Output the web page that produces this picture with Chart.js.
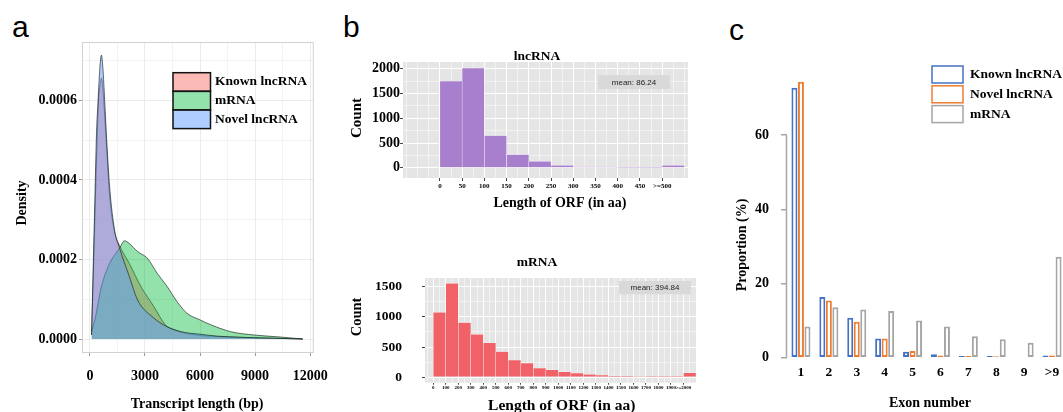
<!DOCTYPE html>
<html>
<head>
<meta charset="utf-8">
<script src="https://cdn.jsdelivr.net/npm/chart.js@4.4.0/dist/chart.umd.min.js"></script>
<style>
  html, body { margin: 0; padding: 0; background: #fff; width: 1063px; height: 412px; overflow: hidden; position: relative; }
  canvas { position: absolute; }
  .tag { position: absolute; font-family: "Liberation Sans", Arial, sans-serif; font-size: 30px; line-height: 30px; color: #000; }
</style>
</head>
<body>
<div class="tag" style="left:12px;top:12px">a</div>
<div class="tag" style="left:343px;top:12px">b</div>
<div class="tag" style="left:729px;top:15px">c</div>
<canvas id="chartA" width="340" height="412" style="left:0;top:0"></canvas>
<canvas id="chartB1" width="360" height="170" style="left:340px;top:45px"></canvas>
<canvas id="chartB2" width="360" height="170" style="left:340px;top:250px"></canvas>
<canvas id="chartC" width="370" height="372" style="left:700px;top:40px"></canvas>
<script>
(() => {
	"use strict";

	const SERIF = '"Liberation Serif", "Times New Roman", serif';
	const SANS = '"Liberation Sans", Arial, sans-serif';

	// a: transcript length density
	const knownLen = [90, 180, 270, 360, 473, 560, 629, 690, 753, 900, 1075, 1340, 1613, 2150, 2778, 3495, 4122, 4500, 5500, 7000, 9000, 11600];
	const knownDensity = [0.00001, 0.00015, 0.0003, 0.00045, 0.0006, 0.00064, 0.000656, 0.00064, 0.0006, 0.00049, 0.00036, 0.00027, 0.000235, 0.00019, 0.000132, 0.000081, 0.000035, 0.000025, 0.000012, 0.000006, 0.000003, 0];
	const mrnaLen = [90, 269, 629, 1075, 1613, 1882, 2150, 2597, 3134, 3670, 4211, 4749, 5285, 6003, 6630, 7706, 8961, 10380, 11600];
	const mrnaDensity = [0.00002, 0.000048, 0.000132, 0.00019, 0.000228, 0.000247, 0.00024, 0.00022, 0.000203, 0.000165, 0.000132, 0.000094, 0.000065, 0.000048, 0.000035, 0.000018, 0.00001, 0.000005, 0];
	const novelLen = [90, 180, 270, 360, 446, 540, 629, 710, 806, 896, 1075, 1340, 1613, 2150, 2600, 3400, 4200, 5000, 6000, 7000, 8000, 9000, 10000, 11600];
	const novelDensity = [0.00001, 0.00018, 0.00035, 0.000517, 0.0006, 0.00068, 0.000714, 0.00068, 0.0006, 0.000517, 0.000383, 0.000275, 0.000229, 0.000157, 0.000098, 0.000056, 0.000031, 0.000018, 0.000012, 0.000007, 0.000005, 0.000003, 0.000002, 0];
	const lengthTicks = [0, 3000, 6000, 9000, 12000];
	const densityTicks = [0, 0.0002, 0.0004, 0.0006];

	// b: ORF length histograms
	const lncBinMid = [25, 75, 125, 175, 225, 275, 325, 375, 425, 475, 525];
	const lncCount = [1750, 2015, 650, 265, 130, 52, 22, 15, 10, 6, 50];
	const lncTickVals = [0, 50, 100, 150, 200, 250, 300, 350, 400, 450, 500];
	const lncTickLabels = ["0", "50", "100", "150", "200", "250", "300", "350", "400", "450", ">=500"];
	const lncMean = 86.24;
	const mrnaBinMid = [50, 150, 250, 350, 450, 550, 650, 750, 850, 950, 1050, 1150, 1250, 1350, 1450, 1550, 1650, 1750, 1850, 1950, 2050];
	const mrnaCount = [1075, 1560, 905, 710, 570, 425, 285, 233, 148, 120, 88, 68, 47, 32, 20, 15, 10, 6, 4, 3, 70];
	const mrnaTickVals = [0, 100, 200, 300, 400, 500, 600, 700, 800, 900, 1000, 1100, 1200, 1300, 1400, 1500, 1600, 1700, 1800, 1900, 2000];
	const mrnaTickLabels = ["0", "100", "200", "300", "400", "500", "600", "700", "800", "900", "1000", "1100", "1200", "1300", "1400", "1500", "1600", "1700", "1800", "1900", ">=2000"];
	const mrnaMean = 394.84;
	const countTicksLnc = [0, 500, 1000, 1500, 2000];
	const countTicksMrna = [0, 500, 1000, 1500];

	// c: exon number
	const exonCats = ["1", "2", "3", "4", "5", "6", "7", "8", "9", ">9"];
	const knownProp = [72.8, 16.4, 10.8, 5.2, 1.6, 0.9, 0.45, 0.45, 0.2, 0.6];
	const novelProp = [74.4, 15.4, 9.7, 5.2, 1.8, 0.6, 0.45, 0.4, 0.2, 0.6];
	const mrnaProp = [8.4, 13.6, 13.0, 12.6, 10.0, 8.4, 5.8, 5.0, 4.0, 27.2];
	const propTicks = [0, 20, 40, 60];

	const range = (a, b, step) => Array.from({ length: Math.round((b - a) / step) + 1 }, (_, i) => a + i * step);
	const has = (list, v) => list.some((t) => Math.abs(t - v) < 1e-9);
	const pts = (xs, ys) => xs.map((x, i) => ({ x: x, y: ys[i] }));
	const fixTicks = (vals) => (s) => { s.ticks = vals.map((v) => ({ value: v })); };
	const bold = (size) => ({ family: SERIF, size: size, weight: "bold" });
	const pick = (vals, labels) => (v) => { const i = vals.indexOf(v); return i < 0 ? "" : labels[i]; };

	// background, frame, legend boxes, mean boxes and free texts
	function makeDeco(cfg) {
		return {
			id: "deco",
			beforeDraw(chart) {
				const a = chart.chartArea, ctx = chart.ctx;
				if (cfg.panel) {
					ctx.save();
					ctx.fillStyle = cfg.panel;
					ctx.fillRect(a.left, a.top, a.right - a.left, a.bottom - a.top);
					ctx.restore();
				}
			},
			afterDraw(chart) {
				const a = chart.chartArea, ctx = chart.ctx;
				ctx.save();
				if (cfg.frame) {
					ctx.strokeStyle = cfg.frame;
					ctx.lineWidth = 1;
					ctx.strokeRect(a.left + 0.5, a.top + 0.5, a.right - a.left - 1, a.bottom - a.top - 1);
				}
				if (cfg.yLine) {
					const y = chart.scales.y;
					ctx.strokeStyle = cfg.yLine.color;
					ctx.lineWidth = 1.5;
					ctx.beginPath();
					ctx.moveTo(a.left - 0.5, y.getPixelForValue(cfg.yLine.from));
					ctx.lineTo(a.left - 0.5, y.getPixelForValue(cfg.yLine.to));
					ctx.stroke();
				}
				(cfg.boxes || []).forEach((b) => {
					ctx.fillStyle = "#d9d9d9";
					ctx.fillRect(b.x, b.y, b.w, b.h);
					ctx.fillStyle = "#222";
					ctx.font = "8px " + SANS;
					ctx.textAlign = "center";
					ctx.textBaseline = "middle";
					ctx.fillText(b.text, b.x + b.w / 2, b.y + b.h / 2 + 0.5);
				});
				if (cfg.key) {
					const k = cfg.key;
					chart.data.datasets.forEach((ds, i) => {
						const y = k.y + i * k.step;
						ctx.fillStyle = "#fff";
						ctx.fillRect(k.x, y, k.w, k.h);
						if (k.fill) {
							ctx.fillStyle = ds.backgroundColor;
							ctx.fillRect(k.x, y, k.w, k.h);
						}
						ctx.strokeStyle = k.stroke || ds.borderColor;
						ctx.lineWidth = 1.5;
						ctx.strokeRect(k.x, y, k.w, k.h);
						ctx.fillStyle = "#000";
						ctx.font = "bold " + k.size + "px " + SERIF;
						ctx.textAlign = "left";
						ctx.textBaseline = "middle";
						ctx.fillText(ds.label, k.tx, y + k.h / 2);
					});
				}
				(cfg.texts || []).forEach((t) => {
					ctx.save();
					ctx.translate(t.x, t.y);
					if (t.rot) ctx.rotate(t.rot);
					ctx.fillStyle = "#000";
					ctx.font = "bold " + t.size + "px " + SERIF;
					ctx.textAlign = "center";
					ctx.textBaseline = "middle";
					ctx.fillText(t.text, 0, 0);
					ctx.restore();
				});
				ctx.restore();
			},
		};
	}

	const base = {
		responsive: false,
		animation: false,
		plugins: { legend: { display: false }, tooltip: { enabled: false } },
	};

	// ---------- a ----------
	const lengthGrid = range(0, 12000, 1500);
	const densityGrid = range(0, 0.0007, 0.0001);
	new Chart(document.getElementById("chartA"), {
		type: "line",
		data: {
			datasets: [
				{ label: "Known lncRNA", data: pts(knownLen, knownDensity), backgroundColor: "rgba(248,118,109,0.5)", order: 3 },
				{ label: "mRNA", data: pts(mrnaLen, mrnaDensity), backgroundColor: "rgba(0,186,56,0.42)", order: 2 },
				{ label: "Novel lncRNA", data: pts(novelLen, novelDensity), backgroundColor: "rgba(97,156,255,0.5)", order: 1 },
			].map((d) => Object.assign(d, {
				fill: "origin",
				borderColor: "rgba(20,30,20,0.8)",
				borderWidth: 0.8,
				pointRadius: 0,
				cubicInterpolationMode: "monotone",
			})),
		},
		options: Object.assign({}, base, {
			layout: { padding: { left: 0, top: 42, right: 23, bottom: 0 } },
			scales: {
				x: {
					type: "linear",
					min: -430,
					max: 12200,
					afterBuildTicks: fixTicks(lengthGrid),
					afterFit: (s) => { s.height = 59; },
					border: { display: false },
					grid: {
						color: "#ebebeb",
						lineWidth: (c) => (has(lengthTicks, c.tick.value) ? 1 : 0.6),
						tickLength: 3,
						tickColor: (c) => (has(lengthTicks, c.tick.value) ? "#9a9a9a" : "rgba(0,0,0,0)"),
					},
					ticks: { autoSkip: false, maxRotation: 0, padding: 12, color: "#000", font: bold(14), callback: (v) => (has(lengthTicks, v) ? String(v) : "") },
				},
				y: {
					min: -0.0000352,
					max: 0.000747,
					afterBuildTicks: fixTicks(densityGrid),
					afterFit: (s) => { s.width = 82; },
					border: { display: false },
					grid: {
						color: "#ebebeb",
						lineWidth: (c) => (has(densityTicks, c.tick.value) ? 1 : 0.6),
						tickLength: 3,
						tickColor: (c) => (has(densityTicks, c.tick.value) ? "#9a9a9a" : "rgba(0,0,0,0)"),
					},
					ticks: { autoSkip: false, padding: 2, color: "#000", font: bold(14), callback: (v) => (has(densityTicks, v) ? v.toFixed(4) : "") },
				},
			},
		}),
		plugins: [makeDeco({
			frame: "#d2d2d2",
			key: { x: 173, y: 72.7, w: 37.5, h: 18.5, step: 18.7, tx: 215, size: 13.5, fill: true, stroke: "#111" },
			texts: [
				{ text: "Density", x: 22, y: 203, rot: -Math.PI / 2, size: 14 },
				{ text: "Transcript length (bp)", x: 197, y: 404, size: 14 },
			],
		})],
	});

	// ---------- b ----------
	function histogram(id, mids, counts, color, xr, yr, xGridStep, tickVals, tickLabels, countTicks, sizes, deco) {
		return new Chart(document.getElementById(id), {
			type: "bar",
			data: {
				datasets: [{
					data: pts(mids, counts),
					backgroundColor: color,
					borderColor: "rgba(255,255,255,0.85)",
					borderWidth: 0.5,
					barThickness: "flex",
					barPercentage: 1,
					categoryPercentage: 1,
				}],
			},
			options: Object.assign({}, base, {
				layout: { padding: sizes.pad },
				scales: {
					x: {
						type: "linear",
						offset: false,
						min: xr[0],
						max: xr[1],
						afterBuildTicks: fixTicks(range(xr[2], xr[3], xGridStep)),
						afterFit: (s) => { s.height = sizes.xh; },
						border: { display: false },
						grid: {
							offset: false,
							color: "#fff",
							lineWidth: (c) => (tickVals.includes(c.tick.value) ? 1 : 0.5),
							tickLength: sizes.xtl,
							tickColor: (c) => (tickVals.includes(c.tick.value) ? "#444" : "rgba(0,0,0,0)"),
						},
						ticks: { autoSkip: false, maxRotation: 0, padding: sizes.xpad, color: "#000", font: bold(sizes.xfs), callback: pick(tickVals, tickLabels) },
					},
					y: {
						min: yr[0],
						max: yr[1],
						afterBuildTicks: fixTicks(range(0, yr[2], 250)),
						afterFit: (s) => { s.width = sizes.yw; },
						border: { display: false },
						grid: {
							color: "#fff",
							lineWidth: (c) => (countTicks.includes(c.tick.value) ? 1 : 0.5),
							tickLength: 3,
							tickColor: (c) => (countTicks.includes(c.tick.value) ? "#444" : "rgba(0,0,0,0)"),
						},
						ticks: { autoSkip: false, padding: sizes.ypad, color: "#000", font: bold(sizes.yfs), callback: (v) => (countTicks.includes(v) ? String(v) : "") },
					},
				},
			}),
			plugins: [makeDeco(deco)],
		});
	}

	histogram("chartB1", lncBinMid, lncCount, "rgb(168,127,205)",
		[-83, 558, -75, 550], [-206, 2137, 2000], 25,
		lncTickVals, lncTickLabels, countTicksLnc,
		{ pad: { left: 0, top: 17, right: 12, bottom: 0 }, xh: 37, yw: 63, xtl: 3, xpad: 1, xfs: 7, ypad: 0, yfs: 14 },
		{
			panel: "#e5e5e5",
			boxes: [{ x: 258, y: 30, w: 72, h: 14, text: "mean: " + lncMean }],
			texts: [
				{ text: "lncRNA", x: 197, y: 12, size: 13.5 },
				{ text: "Count", x: 17, y: 73, rot: -Math.PI / 2, size: 15 },
				{ text: "Length of ORF (in aa)", x: 220, y: 158, size: 14 },
			],
		});

	histogram("chartB2", mrnaBinMid, mrnaCount, "rgb(241,98,104)",
		[-66, 2100, -50, 2100], [-93, 1646, 1500], 50,
		mrnaTickVals, mrnaTickLabels, countTicksMrna,
		{ pad: { left: 0, top: 20.7, right: 4, bottom: 0 }, xh: 37.3, yw: 85, xtl: 2, xpad: 0, xfs: 5, ypad: 20, yfs: 13.5 },
		{
			panel: "#e5e5e5",
			boxes: [{ x: 279, y: 31, w: 72, h: 13.3, text: "mean: " + mrnaMean }],
			texts: [
				{ text: "mRNA", x: 197, y: 13, size: 13.5 },
				{ text: "Count", x: 17, y: 67, rot: -Math.PI / 2, size: 14.5 },
				{ text: "Length of ORF (in aa)", x: 221.7, y: 155.5, size: 15.5 },
			],
		});

	// ---------- c ----------
	new Chart(document.getElementById("chartC"), {
		type: "bar",
		data: {
			labels: exonCats,
			datasets: [
				{ label: "Known lncRNA", data: knownProp, borderColor: "#4472c4" },
				{ label: "Novel lncRNA", data: novelProp, borderColor: "#ed7d31" },
				{ label: "mRNA", data: mrnaProp, borderColor: "#a5a5a5" },
			].map((d) => Object.assign(d, {
				backgroundColor: "#fff",
				borderWidth: 2,
				borderSkipped: false,
				barPercentage: 0.92,
				categoryPercentage: 0.7,
			})),
		},
		options: Object.assign({}, base, {
			layout: { padding: { left: 0, top: 21, right: 4, bottom: 0 } },
			scales: {
				x: {
					afterFit: (s) => { s.height = 54.3; },
					border: { display: false },
					grid: { display: false, drawTicks: false },
					ticks: { padding: 7, color: "#000", font: bold(13.5) },
				},
				y: {
					min: 0,
					max: 80,
					afterBuildTicks: fixTicks(propTicks),
					afterFit: (s) => { s.width = 87; },
					border: { display: false },
					grid: { drawOnChartArea: false, tickLength: 6, tickColor: "#a6a6a6", lineWidth: 1.5 },
					ticks: { padding: 12, color: "#000", font: bold(14) },
				},
			},
		}),
		plugins: [makeDeco({
			yLine: { from: 0, to: 60, color: "#a6a6a6" },
			key: { x: 232, y: 26, w: 31, h: 17, step: 19.8, tx: 270, size: 13.5, fill: false },
			texts: [
				{ text: "Proportion (%)", x: 42, y: 205, rot: -Math.PI / 2, size: 14 },
				{ text: "Exon number", x: 230, y: 363, size: 14 },
			],
		})],
	});
})();
</script>
</body>
</html>
